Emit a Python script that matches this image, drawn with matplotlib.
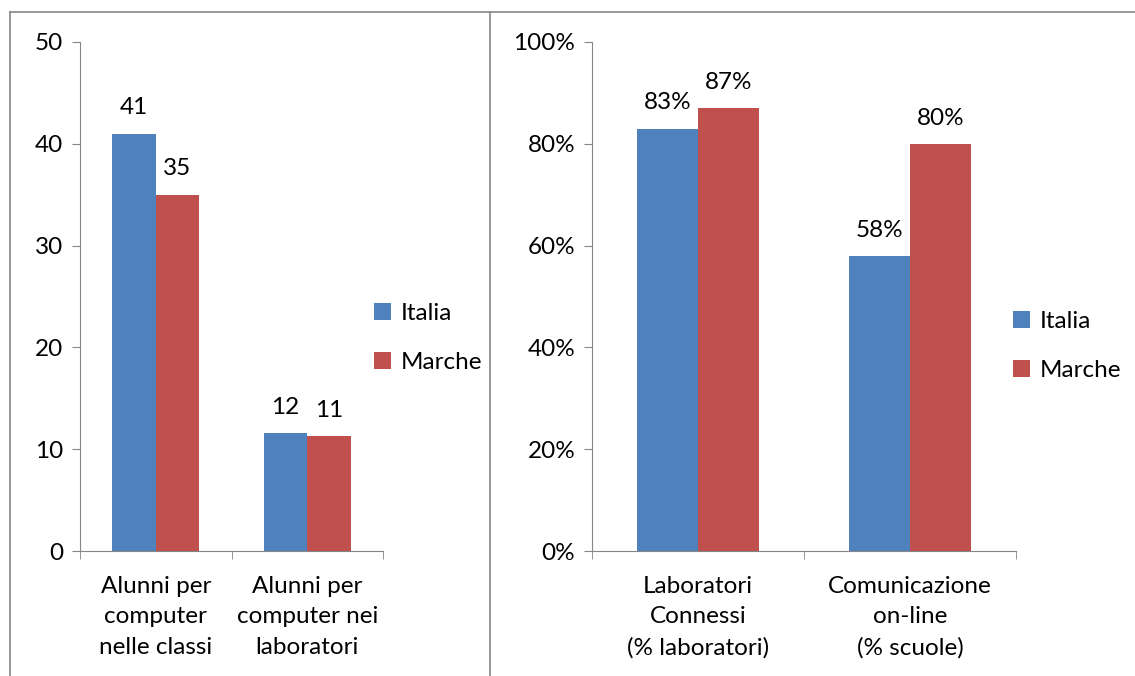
import numpy as np
import matplotlib
matplotlib.use("Agg")
import matplotlib.pyplot as plt
from matplotlib.lines import Line2D

# Data
serie = ["Italia", "Marche"]
kategori_kiri = ["Alunni per\ncomputer\nnelle classi", "Alunni per\ncomputer nei\nlaboratori"]
italia_kiri = [41, 11.6]
marche_kiri = [35, 11.3]
label_italia_kiri = ["41", "12"]
label_marche_kiri = ["35", "11"]

kategori_kanan = ["Laboratori\nConnessi\n(% laboratori)", "Comunicazione\non-line\n(% scuole)"]
italia_kanan = [83, 58]
marche_kanan = [87, 80]

WARNA = ["#4F81BD", "#C0504D"]
ABU = "#868686"
plt.rcParams["font.family"] = ["Lato", "DejaVu Sans"]
FS = 17.5

fig = plt.figure(figsize=(11.35, 6.76), dpi=100)

# Garis tepi panel
for x in [10 / 1135, 490 / 1135]:
    fig.add_artist(Line2D([x, x], [0, 1 - 12 / 676], color=ABU, lw=1.2, transform=fig.transFigure))
fig.add_artist(Line2D([10 / 1135, 1], [1 - 12 / 676, 1 - 12 / 676], color=ABU, lw=1.2,
                      transform=fig.transFigure))


def gambar_panel(ax, kategori, nilai_a, nilai_b, label_a, label_b, ymax, persen, legend_xy):
    x = np.arange(len(kategori)) + 0.5
    w = 1 / 3.5
    b1 = ax.bar(x - w / 2, nilai_a, w, color=WARNA[0], label=serie[0])
    b2 = ax.bar(x + w / 2, nilai_b, w, color=WARNA[1], label=serie[1])
    for bars, labels in [(b1, label_a), (b2, label_b)]:
        for rect, lab in zip(bars, labels):
            ax.annotate(lab, xy=(rect.get_x() + rect.get_width() / 2, rect.get_height()),
                        xytext=(0, 11), textcoords="offset points",
                        ha="center", va="bottom", fontsize=FS)
    ax.set_xlim(0, len(kategori))
    ax.set_ylim(0, ymax)
    ax.set_yticks(np.linspace(0, ymax, 6))
    if persen:
        ax.set_yticklabels([f"{int(v)}%" for v in np.linspace(0, ymax, 6)])
    ax.set_xticks(x)
    ax.set_xticklabels(kategori, fontsize=FS, linespacing=1.55)
    ax.set_xticks(np.arange(len(kategori) + 1), minor=True)
    ax.tick_params(axis="x", which="major", length=0, pad=18)
    ax.tick_params(axis="x", which="minor", length=6, color=ABU, direction="out")
    ax.tick_params(axis="y", length=6, color=ABU, labelsize=FS, pad=6)
    for s in ["top", "right"]:
        ax.spines[s].set_visible(False)
    for s in ["left", "bottom"]:
        ax.spines[s].set_color(ABU)
    ax.legend(loc="center left", bbox_to_anchor=legend_xy, bbox_transform=fig.transFigure,
              frameon=False, fontsize=FS, handlelength=0.7, handleheight=0.7,
              handletextpad=0.4, labelspacing=1.15, borderpad=0, borderaxespad=0)


ax1 = fig.add_axes([80 / 1135, 1 - 551 / 676, 303 / 1135, 509 / 676])
gambar_panel(ax1, kategori_kiri, italia_kiri, marche_kiri,
             label_italia_kiri, label_marche_kiri, 50, False, (374 / 1135, 1 - 338 / 676))

ax2 = fig.add_axes([592 / 1135, 1 - 551 / 676, 424 / 1135, 509 / 676])
gambar_panel(ax2, kategori_kanan, italia_kanan, marche_kanan,
             [f"{v}%" for v in italia_kanan], [f"{v}%" for v in marche_kanan],
             100, True, (1013 / 1135, 1 - 346 / 676))

plt.savefig("out.png", dpi=100)
plt.close()
